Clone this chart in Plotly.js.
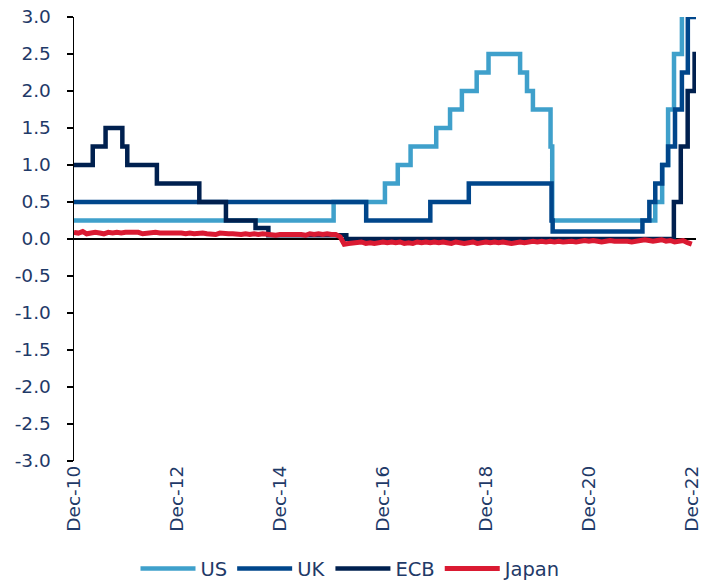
<!DOCTYPE html>
<html>
<head>
<meta charset="utf-8">
<script src="https://cdn.plot.ly/plotly-3.0.1.min.js"></script>
<style>html,body{margin:0;padding:0;background:#fff;}#chart{width:702px;height:586px;}</style>
</head>
<body>
<div id="chart"></div>
<script>
// Policy rates (%), step series: date of change -> new rate
const usDates = ['2010-12-01','2015-12-17','2016-12-15','2017-03-16','2017-06-15','2017-12-14','2018-03-22','2018-06-14','2018-09-27','2018-12-20','2019-08-01','2019-09-19','2019-10-31','2020-03-04','2020-03-16','2022-03-17','2022-05-05','2022-06-16','2022-07-28','2022-09-22','2022-11-03','2022-12-15','2022-12-31'];
const usRates = [0.25,0.50,0.75,1.00,1.25,1.50,1.75,2.00,2.25,2.50,2.25,2.00,1.75,1.25,0.25,0.50,1.00,1.75,2.50,3.25,4.00,4.50,4.50];

const ukDates = ['2010-12-01','2016-08-04','2017-11-02','2018-08-02','2020-03-11','2020-03-19','2021-12-16','2022-02-03','2022-03-17','2022-05-05','2022-06-16','2022-08-04','2022-09-22','2022-11-03','2022-12-15','2022-12-31'];
const ukRates = [0.50,0.25,0.50,0.75,0.25,0.10,0.25,0.50,0.75,1.00,1.25,1.75,2.25,3.00,3.50,3.50];

const ecbDates = ['2010-12-01','2011-04-13','2011-07-13','2011-11-09','2011-12-14','2012-07-11','2013-05-08','2013-11-13','2014-06-11','2014-09-10','2016-03-16','2022-07-27','2022-09-14','2022-11-02','2022-12-21','2022-12-31'];
const ecbRates = [1.00,1.25,1.50,1.25,1.00,0.75,0.50,0.25,0.15,0.05,0.00,0.50,1.25,2.00,2.50,2.50];

// Japan overnight call rate, monthly readings Dec-10 .. Dec-22
const japanRates = [
 0.09,
 0.08,0.10,0.07,0.08,0.09,0.08,0.07,0.09,0.08,0.09,0.08,0.09,
 0.09,0.08,0.09,0.07,0.08,0.09,0.09,0.08,0.08,0.09,0.08,0.09,
 0.08,0.07,0.08,0.07,0.08,0.08,0.07,0.07,0.06,0.08,0.07,0.07,
 0.07,0.06,0.06,0.07,0.06,0.07,0.06,0.07,0.06,0.06,0.05,0.06,
 0.06,0.07,0.06,0.07,0.06,0.05,0.07,0.06,0.07,0.06,0.07,0.06,
 0.06,0.03,-0.07,-0.06,-0.05,-0.05,-0.04,-0.06,-0.05,-0.06,-0.05,-0.04,
 -0.05,-0.04,-0.05,-0.04,-0.06,-0.05,-0.06,-0.04,-0.05,-0.04,-0.05,-0.04,
 -0.05,-0.04,-0.05,-0.06,-0.04,-0.05,-0.06,-0.05,-0.04,-0.06,-0.05,-0.04,
 -0.05,-0.04,-0.05,-0.04,-0.05,-0.06,-0.05,-0.04,-0.05,-0.04,-0.03,-0.04,
 -0.03,-0.04,-0.03,-0.04,-0.03,-0.04,-0.03,-0.03,-0.04,-0.03,-0.02,-0.03,
 -0.02,-0.03,-0.04,-0.03,-0.02,-0.03,-0.03,-0.02,-0.03,-0.04,-0.03,-0.02,
 -0.01,-0.02,-0.03,-0.02,-0.01,-0.03,-0.02,-0.04,-0.03,-0.02,-0.05,-0.07
];
const seriesNames = ['US','UK','ECB','Japan'];
const seriesColors = ['#3FA0CB','#00468B','#00204F','#DA1A32'];
const xTickVals = ['2010-12-01','2012-12-01','2014-12-01','2016-12-01','2018-12-01','2020-12-01','2022-12-01'];
const xTickText = ['Dec-10','Dec-12','Dec-14','Dec-16','Dec-18','Dec-20','Dec-22'];
const yTickVals = [-3,-2.5,-2,-1.5,-1,-0.5,0,0.5,1,1.5,2,2.5,3];
const yTickText = ['-3.0','-2.5','-2.0','-1.5','-1.0','-0.5','0.0','0.5','1.0','1.5','2.0','2.5','3.0'];

// build Japan monthly dates
const japanDates = japanRates.map((v,i)=>{
  const d = new Date(Date.UTC(2010, 11 + i, 1));
  return d.toISOString().slice(0,10);
});

const textColor = '#1F3A68';
const tickFont = {family:'"DejaVu Sans", sans-serif', size:18.5, color:textColor};
const legendFont = {family:'"DejaVu Sans", sans-serif', size:19.5, color:textColor};

const traces = [
  {x:usDates, y:usRates, name:seriesNames[0], mode:'lines', line:{color:seriesColors[0], width:4.5, shape:'hv'}},
  {x:ukDates, y:ukRates, name:seriesNames[1], mode:'lines', line:{color:seriesColors[1], width:4.5, shape:'hv'}},
  {x:ecbDates, y:ecbRates, name:seriesNames[2], mode:'lines', line:{color:seriesColors[2], width:4.5, shape:'hv'}},
  {x:japanDates, y:japanRates, name:seriesNames[3], mode:'lines', line:{color:seriesColors[3], width:5}}
];

const layout = {
  width:702, height:586,
  margin:{l:74, r:6, t:17, b:125, autoexpand:false},
  paper_bgcolor:'#fff', plot_bgcolor:'#fff',
  font: tickFont,
  showlegend:true,
  legend:{orientation:'h', x:0.5, xanchor:'center', xref:'container', y:-0.243, yref:'paper', yanchor:'middle', font:legendFont, itemwidth:55, traceorder:'normal'},
  xaxis:{
    type:'date', range:['2010-12-01','2022-12-31'], automargin:false,
    tickmode:'array', tickvals:xTickVals, ticktext:xTickText, tickangle:-90,
    ticks:'', showline:false, showgrid:false, zeroline:false,
    tickfont:tickFont
  },
  xaxis2:{
    type:'date', overlaying:'x', matches:'x', anchor:'free', position:0.5,
    tickmode:'array', tickvals:xTickVals, ticks:'outside', ticklen:7, tickwidth:1.5, tickcolor:'#000',
    showticklabels:false, showline:false, showgrid:false, zeroline:false
  },
  yaxis:{
    range:[-3,3], tickmode:'array', tickvals:yTickVals, ticktext:yTickText, automargin:false,
    showline:true, linecolor:'#000', linewidth:1.5,
    ticks:'outside', ticklen:6, tickwidth:1.5, tickcolor:'#000',
    showgrid:false, zeroline:true, zerolinecolor:'#000', zerolinewidth:1.5,
    tickfont:tickFont, ticklabelstandoff:12
  }
};

Plotly.newPlot('chart', traces, layout, {displayModeBar:false, staticPlot:true});
</script>
</body>
</html>
